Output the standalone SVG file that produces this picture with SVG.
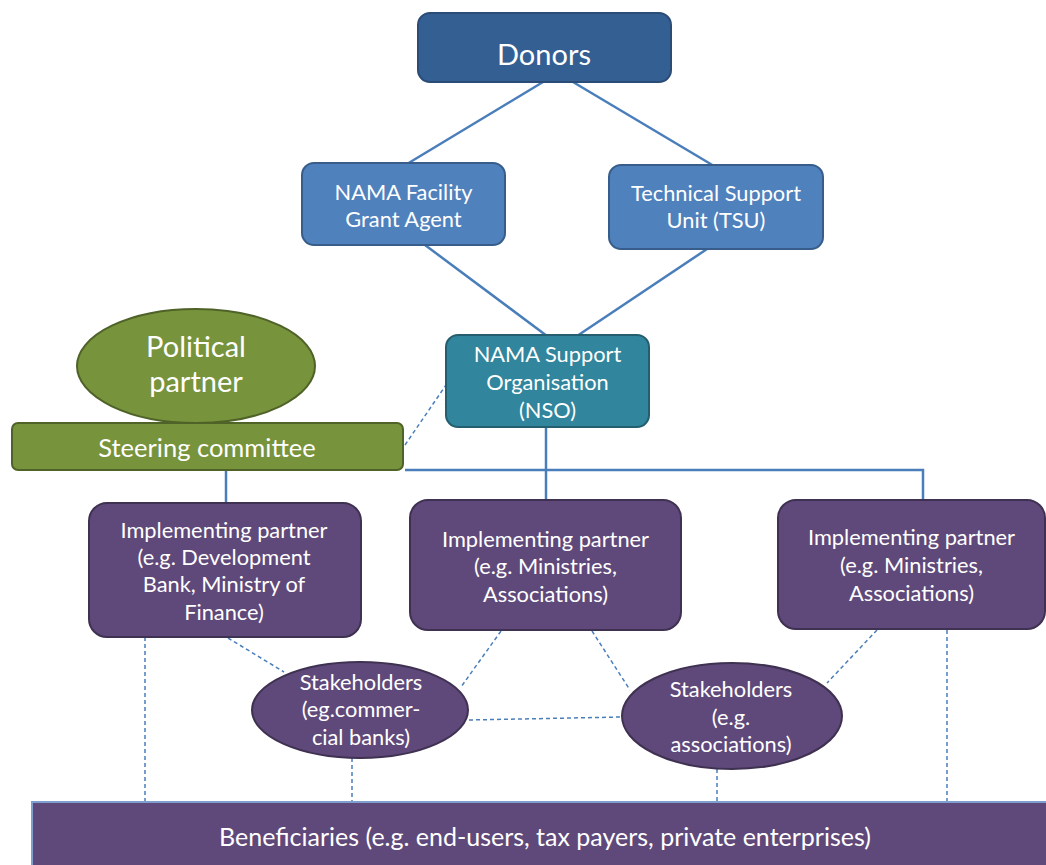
<svg xmlns="http://www.w3.org/2000/svg" width="1046" height="865" viewBox="0 0 1046 865">
<style>
  text { font-family: Lato, "Liberation Sans", sans-serif; fill: #ffffff; text-anchor: middle; }
  .t20 { font-size: 21.8px; }
  .blue1 { fill: #345f93; stroke: #2a4c77; stroke-width: 2; }
  .blue2 { fill: #4f81bd; stroke: #385d8a; stroke-width: 2; }
  .teal { fill: #31859c; stroke: #245e6f; stroke-width: 2; }
  .green { fill: #77933c; stroke: #4f6228; stroke-width: 2; }
  .purple { fill: #5f497a; stroke: #3f3151; stroke-width: 2; }
  .benef { fill: #5f497a; stroke: #7f9fcf; stroke-width: 2; }
  .conn { stroke: #4a7ebb; stroke-width: 2.5; fill: none; }
  .dash { stroke: #4a7ebb; stroke-width: 1.5; fill: none; stroke-dasharray: 4 3; }
</style>
<rect width="1046" height="865" fill="#ffffff"/>
<g id="connectors">
  <line class="conn" x1="543" y1="82" x2="407" y2="164"/>
  <line class="conn" x1="573" y1="82" x2="714" y2="166"/>
  <line class="conn" x1="425" y1="245" x2="547" y2="336"/>
  <line class="conn" x1="707" y1="249" x2="577" y2="336"/>
  <line class="conn" x1="546" y1="427" x2="546" y2="500"/>
  <line class="conn" x1="226" y1="470" x2="226" y2="503"/>
  <polyline class="conn" points="405,470 923,470 923,500"/>
  <line class="dash" x1="405" y1="445" x2="446" y2="385"/>
  <line class="dash" x1="145" y1="637" x2="145" y2="802"/>
  <line class="dash" x1="228" y1="638" x2="284" y2="672"/>
  <line class="dash" x1="501" y1="631" x2="461" y2="687"/>
  <line class="dash" x1="592" y1="631" x2="630" y2="690"/>
  <line class="dash" x1="469" y1="720" x2="622" y2="717"/>
  <line class="dash" x1="877" y1="630" x2="827" y2="683"/>
  <line class="dash" x1="947" y1="630" x2="947" y2="802"/>
  <line class="dash" x1="352" y1="758" x2="352" y2="802"/>
  <line class="dash" x1="717" y1="769" x2="717" y2="802"/>
</g>
<g id="donors">
  <rect class="blue1" x="418" y="13" width="253" height="69" rx="12"/>
  <text x="544" y="65" style="font-size:29px">Donors</text>
</g>
<g id="grant-agent">
  <rect class="blue2" x="302" y="163" width="203" height="82" rx="12"/>
  <text class="t20" x="403.5" y="200">NAMA Facility</text>
  <text class="t20" x="403.5" y="227">Grant Agent</text>
</g>
<g id="tsu">
  <rect class="blue2" x="609" y="165" width="214" height="84" rx="12"/>
  <text class="t20" x="716" y="201">Technical Support</text>
  <text class="t20" x="716" y="228">Unit (TSU)</text>
</g>
<g id="nso">
  <rect class="teal" x="446" y="335" width="203" height="92" rx="12"/>
  <text class="t20" x="547.5" y="362">NAMA Support</text>
  <text class="t20" x="547.5" y="390">Organisation</text>
  <text class="t20" x="547.5" y="418">(NSO)</text>
</g>
<g id="political-partner">
  <ellipse class="green" cx="196" cy="366" rx="119" ry="57"/>
  <text x="196" y="357" style="font-size:29px">Political</text>
  <text x="196" y="392" style="font-size:29px">partner</text>
</g>
<g id="steering-committee">
  <rect class="green" x="12" y="423" width="391" height="47" rx="6"/>
  <text x="207" y="457" style="font-size:25.5px">Steering committee</text>
</g>
<g id="ip1">
  <rect class="purple" x="89" y="503" width="272" height="134" rx="18"/>
  <text class="t20" x="224" y="538">Implementing partner</text>
  <text class="t20" x="224" y="565">(e.g. Development</text>
  <text class="t20" x="224" y="592">Bank, Ministry of</text>
  <text class="t20" x="224" y="620">Finance)</text>
</g>
<g id="ip2">
  <rect class="purple" x="410" y="500" width="271" height="130" rx="18"/>
  <text class="t20" x="545.5" y="547">Implementing partner</text>
  <text class="t20" x="545.5" y="574">(e.g. Ministries,</text>
  <text class="t20" x="545.5" y="602">Associations)</text>
</g>
<g id="ip3">
  <rect class="purple" x="778" y="500" width="267" height="129" rx="18"/>
  <text class="t20" x="911.5" y="545">Implementing partner</text>
  <text class="t20" x="911.5" y="573">(e.g. Ministries,</text>
  <text class="t20" x="911.5" y="601">Associations)</text>
</g>
<g id="stakeholders1">
  <ellipse class="purple" cx="360" cy="710" rx="108" ry="48"/>
  <text class="t20" x="361" y="690">Stakeholders</text>
  <text class="t20" x="361" y="717">(eg.commer-</text>
  <text class="t20" x="361" y="745">cial banks)</text>
</g>
<g id="stakeholders2">
  <ellipse class="purple" cx="732" cy="716" rx="110" ry="53"/>
  <text class="t20" x="731" y="697">Stakeholders</text>
  <text class="t20" x="731" y="725">(e.g.</text>
  <text class="t20" x="731" y="752">associations)</text>
</g>
<g id="beneficiaries">
  <rect class="benef" x="32" y="802" width="1020" height="70"/>
  <text x="545" y="846" style="font-size:25px">Beneficiaries (e.g. end-users, tax payers, private enterprises)</text>
</g>
</svg>
